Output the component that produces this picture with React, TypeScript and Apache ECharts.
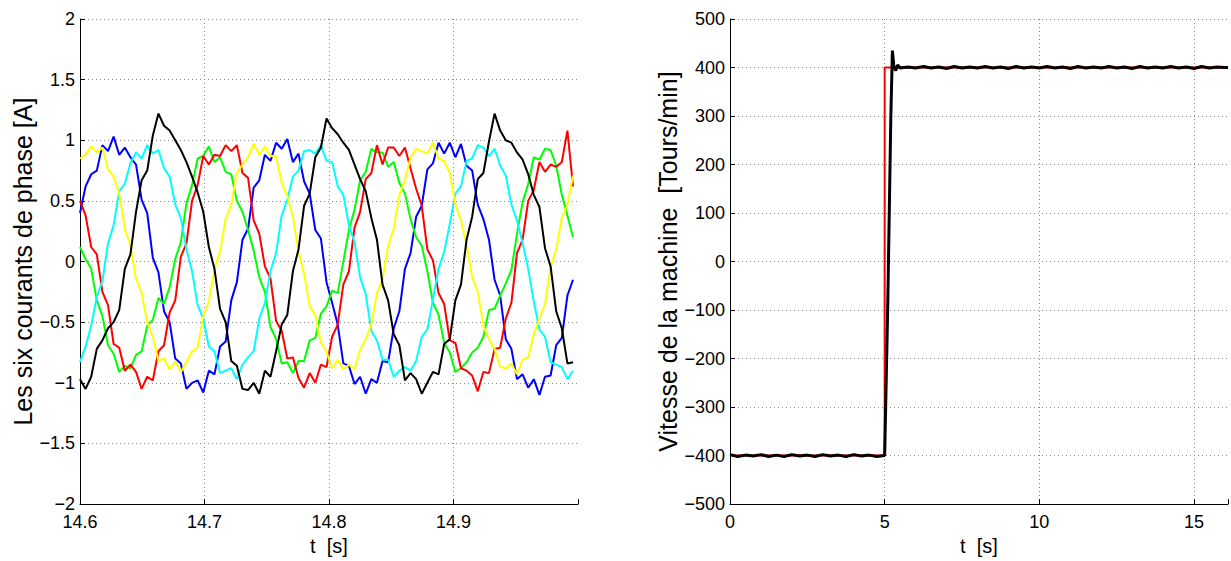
import React, { useEffect, useRef } from "react";
import * as echarts from "echarts";

// ---- Left plot: six phase currents (sampled every 4.5 ms from 14.6 s) ----
const T_START = 14.6;
const T_STEP = 0.0045;

const iYellow = [
  0.85, 0.88, 0.95, 0.9, 0.94, 0.76, 0.7, 0.56, 0.27, 0.13, -0.14, -0.26, -0.5, -0.62, -0.82, -0.8, -0.89, -0.82, -0.91, -0.83, -0.74, -0.71, -0.45, -0.33, -0.06, 0.08, 0.35, 0.47, 0.73, 0.8,
  0.86, 0.97, 0.88, 0.95, 0.87, 0.87, 0.65, 0.54, 0.37, 0.08, -0.1, -0.37, -0.44, -0.67, -0.74, -0.88, -0.81, -0.89, -0.85, -0.89, -0.73, -0.64, -0.52, -0.26, -0.15, 0.13, 0.27, 0.55, 0.67, 0.86,
  0.93, 0.91, 0.89, 0.98, 0.85, 0.83, 0.73, 0.47, 0.34, 0.14, -0.13, -0.25, -0.53, -0.64, -0.72, -0.87, -0.88, -0.84, -0.93, -0.81, -0.79, -0.6, -0.47, -0.35, -0.05, 0.1, 0.36, 0.47, 0.71,
];
const iBlue = [
  0.4, 0.62, 0.72, 0.75, 0.96, 0.91, 1.03, 0.88, 0.94, 0.86, 0.8, 0.51, 0.4, 0.03, -0.09, -0.41, -0.5, -0.8, -0.84, -1.05, -1.0, -0.98, -1.08, -0.9, -0.93, -0.7, -0.66, -0.32, -0.17, 0.18,
  0.27, 0.61, 0.67, 0.88, 0.83, 0.98, 0.93, 1.01, 0.82, 0.89, 0.66, 0.56, 0.26, 0.19, -0.17, -0.34, -0.52, -0.84, -0.86, -1.01, -0.95, -1.09, -0.97, -1.0, -0.82, -0.83, -0.55, -0.41, -0.06, 0.07,
  0.37, 0.46, 0.76, 0.81, 0.98, 0.89, 0.98, 0.86, 0.97, 0.79, 0.75, 0.47, 0.35, 0.18, -0.15, -0.28, -0.64, -0.72, -0.97, -0.93, -1.04, -0.97, -1.1, -0.95, -0.94, -0.69, -0.63, -0.28, -0.15,
];
const iCyan = [
  -0.83, -0.7, -0.53, -0.29, -0.16, 0.15, 0.3, 0.58, 0.64, 0.81, 0.9, 0.85, 0.96, 0.89, 0.92, 0.77, 0.7, 0.47, 0.36, 0.1, -0.08, -0.36, -0.47, -0.7, -0.74, -0.92, -0.9, -0.88, -0.97, -0.85,
  -0.79, -0.74, -0.47, -0.34, -0.08, 0.07, 0.38, 0.51, 0.7, 0.75, 0.91, 0.92, 0.89, 0.96, 0.83, 0.82, 0.62, 0.55, 0.3, 0.16, -0.13, -0.27, -0.57, -0.65, -0.81, -0.81, -0.95, -0.9, -0.87, -0.9,
  -0.82, -0.62, -0.56, -0.31, -0.06, 0.08, 0.31, 0.56, 0.62, 0.83, 0.85, 0.96, 0.94, 0.87, 0.93, 0.79, 0.71, 0.47, 0.34, 0.15, -0.06, -0.33, -0.56, -0.62, -0.83, -0.85, -0.87, -0.97, -0.9,
];
const iBlack = [
  -0.97, -1.05, -0.95, -0.72, -0.65, -0.55, -0.5, -0.4, -0.06, 0.06, 0.41, 0.67, 0.75, 1.04, 1.22, 1.12, 1.08, 1.0, 0.92, 0.82, 0.7, 0.57, 0.41, 0.12, -0.06, -0.39, -0.5, -0.82, -0.86, -1.05,
  -1.06, -1.0, -1.09, -0.9, -0.95, -0.74, -0.52, -0.44, -0.08, 0.1, 0.46, 0.56, 0.86, 0.94, 1.18, 1.1, 1.05, 0.98, 0.92, 0.8, 0.68, 0.58, 0.36, 0.18, -0.19, -0.32, -0.6, -0.69, -0.98, -0.92,
  -0.97, -1.09, -1.0, -0.91, -0.93, -0.68, -0.64, -0.32, -0.19, 0.18, 0.37, 0.68, 0.73, 0.99, 1.22, 1.08, 1.0, 0.98, 0.9, 0.84, 0.72, 0.55, 0.45, 0.11, -0.04, -0.41, -0.55, -0.84, -0.83,
];
const iGreen = [
  0.12, 0.02, -0.06, -0.32, -0.45, -0.69, -0.76, -0.91, -0.86, -0.88, -0.77, -0.74, -0.53, -0.48, -0.3, -0.35, -0.21, 0.02, 0.16, 0.48, 0.63, 0.85, 0.87, 0.95, 0.82, 0.86, 0.74, 0.72, 0.5, 0.41,
  0.26, 0.09, -0.13, -0.25, -0.54, -0.64, -0.84, -0.83, -0.92, -0.82, -0.82, -0.65, -0.63, -0.43, -0.37, -0.24, -0.26, 0.0, 0.26, 0.43, 0.67, 0.74, 0.93, 0.9, 0.9, 0.78, 0.82, 0.65, 0.56, 0.35,
  0.2, 0.13, -0.08, -0.34, -0.44, -0.67, -0.75, -0.91, -0.88, -0.83, -0.75, -0.71, -0.62, -0.4, -0.39, -0.28, -0.18, -0.07, 0.23, 0.49, 0.64, 0.86, 0.84, 0.93, 0.92, 0.79, 0.55, 0.38, 0.2,
];
const iRed = [
  0.5, 0.38, 0.12, 0.06, -0.25, -0.36, -0.68, -0.71, -0.9, -0.85, -0.91, -1.05, -0.95, -0.98, -0.74, -0.69, -0.42, -0.32, 0.04, 0.15, 0.5, 0.63, 0.87, 0.8, 0.88, 0.87, 0.96, 0.91, 0.96, 0.73,
  0.69, 0.34, 0.23, -0.04, -0.14, -0.49, -0.57, -0.8, -0.79, -0.96, -1.04, -0.92, -1.0, -0.85, -0.87, -0.62, -0.52, -0.19, -0.08, 0.28, 0.41, 0.68, 0.73, 0.96, 0.8, 0.94, 0.94, 0.87, 0.94, 0.77,
  0.6, 0.46, 0.1, 0.01, -0.26, -0.35, -0.65, -0.67, -0.88, -0.9, -0.94, -1.07, -0.91, -0.92, -0.72, -0.71, -0.47, -0.34, 0.07, 0.18, 0.5, 0.59, 0.82, 0.74, 0.8, 0.78, 0.82, 1.08, 0.62,
];

// ---- Right plot: machine speed ----
const speedT = [
  0, 0.25, 0.5, 0.75, 1, 1.25, 1.5, 1.75, 2, 2.25, 2.5, 2.75, 3, 3.25, 3.5, 3.75, 4, 4.25, 4.5, 4.75, 5,
  5.1, 5.2, 5.25, 5.3, 5.36, 5.42, 5.5,
  5.75, 6, 6.25, 6.5, 6.75, 7, 7.25, 7.5, 7.75, 8, 8.25, 8.5, 8.75, 9, 9.25, 9.5, 9.75, 10, 10.25, 10.5, 10.75, 11, 11.25,
  11.5, 11.75, 12, 12.25, 12.5, 12.75, 13, 13.25, 13.5, 13.75, 14, 14.25, 14.5, 14.75, 15, 15.25, 15.5, 15.75, 16, 16.1,
];
const speedV = [
  -398, -402, -399, -401, -398, -402, -399, -402, -398, -401, -399, -402, -398, -401, -399, -402, -398, -401, -399, -402, -400,
  -90, 300, 435, 401, 394, 405, 399,
  401, 399, 402, 399, 401, 398, 402, 399, 401, 399, 402, 399, 401, 398, 402, 399, 401, 399, 402, 399, 401, 398, 402,
  399, 401, 399, 402, 399, 401, 398, 402, 399, 401, 399, 402, 399, 401, 398, 402, 399, 401, 400, 400,
];
const refT = [0, 5, 5, 16.1];
const refV = [-400, -400, 400, 400];

const FONT = "'Liberation Sans', Arial, Helvetica, sans-serif";

const fmtNum = (v: number) => {
  const r = Math.round(v * 100) / 100;
  return r < 0 ? "\u2212" + String(-r) : String(r);
};

const currentSeries = [
  { name: "i1", color: "#0000ff", data: iBlue },
  { name: "i2", color: "#00ff00", data: iGreen },
  { name: "i3", color: "#ff0000", data: iRed },
  { name: "i4", color: "#00ffff", data: iCyan },
  { name: "i5", color: "#ffff00", data: iYellow },
  { name: "i6", color: "#000000", data: iBlack },
];

function axisCommon() {
  return {
    axisLine: { show: true, onZero: false, lineStyle: { color: "#000", width: 1 } },
    axisTick: { show: true, inside: true, length: 5, lineStyle: { color: "#000", width: 1 } },
    nameTextStyle: { fontSize: 25, color: "#000", fontFamily: FONT },
  };
}

export default function App() {
  const ref = useRef<HTMLDivElement>(null);
  useEffect(() => {
    if (!ref.current) return;
    const chart = echarts.init(ref.current, null, { renderer: "svg" });
    const split = { lineStyle: { type: [1, 3] as any, color: "#8a8a8a", width: 1 } };
    const option: any = {
      animation: false,
      backgroundColor: "#ffffff",
      grid: [
        { left: 80, right: 653, top: 19, bottom: 50 },
        { left: 730, right: 0, top: 19, bottom: 50 },
      ],
      xAxis: [
        {
          gridIndex: 0,
          type: "value",
          min: 14.6,
          max: 15,
          interval: 0.1,
          name: "t  [s]",
          nameLocation: "middle",
          nameGap: 25,
          ...axisCommon(),
          nameTextStyle: { fontSize: 20, color: "#000", fontFamily: FONT },
          axisLabel: {
            fontSize: 18,
            color: "#000",
            fontFamily: FONT,
            margin: 9,
            formatter: (v: number) => (v > 14.95 ? "" : v.toFixed(1)),
          },
          splitLine: { show: true, showMinLine: false, showMaxLine: false, ...split },
        },
        {
          gridIndex: 1,
          type: "value",
          min: 0,
          max: 16.1,
          interval: 5,
          name: "t  [s]",
          nameLocation: "middle",
          nameGap: 25,
          ...axisCommon(),
          nameTextStyle: { fontSize: 20, color: "#000", fontFamily: FONT },
          axisLabel: {
            fontSize: 18,
            color: "#000",
            fontFamily: FONT,
            margin: 9,
            formatter: (v: number) => (Math.abs(v / 5 - Math.round(v / 5)) < 1e-6 ? String(Math.round(v)) : ""),
          },
          splitLine: { show: true, showMinLine: false, showMaxLine: false, ...split },
        },
      ],
      yAxis: [
        {
          gridIndex: 0,
          type: "value",
          min: -2,
          max: 2,
          interval: 0.5,
          name: "Les six courants de phase [A]",
          nameLocation: "middle",
          nameGap: 42,
          ...axisCommon(),
          axisLabel: { fontSize: 18, color: "#000", fontFamily: FONT, margin: 5, formatter: fmtNum },
          splitLine: { show: true, showMinLine: false, showMaxLine: true, ...split },
        },
        {
          gridIndex: 1,
          type: "value",
          min: -500,
          max: 500,
          interval: 100,
          name: "Vitesse de la machine  [Tours/min]",
          nameLocation: "middle",
          nameGap: 47,
          ...axisCommon(),
          axisLabel: { fontSize: 18, color: "#000", fontFamily: FONT, margin: 5, formatter: fmtNum },
          splitLine: { show: true, showMinLine: false, showMaxLine: true, ...split },
        },
      ],
      series: [
        ...currentSeries.map((s) => ({
          name: s.name,
          type: "line",
          xAxisIndex: 0,
          yAxisIndex: 0,
          showSymbol: false,
          silent: true,
          data: s.data.map((v, i) => [T_START + i * T_STEP, v]),
          lineStyle: { color: s.color, width: 2 },
          itemStyle: { color: s.color },
        })),
        {
          name: "reference",
          type: "line",
          xAxisIndex: 1,
          yAxisIndex: 1,
          showSymbol: false,
          silent: true,
          data: refT.map((t, i) => [t, refV[i]]),
          lineStyle: { color: "#ff0000", width: 2 },
          itemStyle: { color: "#ff0000" },
        },
        {
          name: "vitesse",
          type: "line",
          xAxisIndex: 1,
          yAxisIndex: 1,
          showSymbol: false,
          silent: true,
          data: speedT.map((t, i) => [t, speedV[i]]),
          lineStyle: { color: "#000000", width: 3 },
          itemStyle: { color: "#000000" },
        },
      ],
    };
    chart.setOption(option);
    return () => chart.dispose();
  }, []);
  return (
    <div
      ref={ref}
      style={{ position: "fixed", left: 0, top: 0, width: 1231, height: 561, background: "#fff" }}
    />
  );
}
